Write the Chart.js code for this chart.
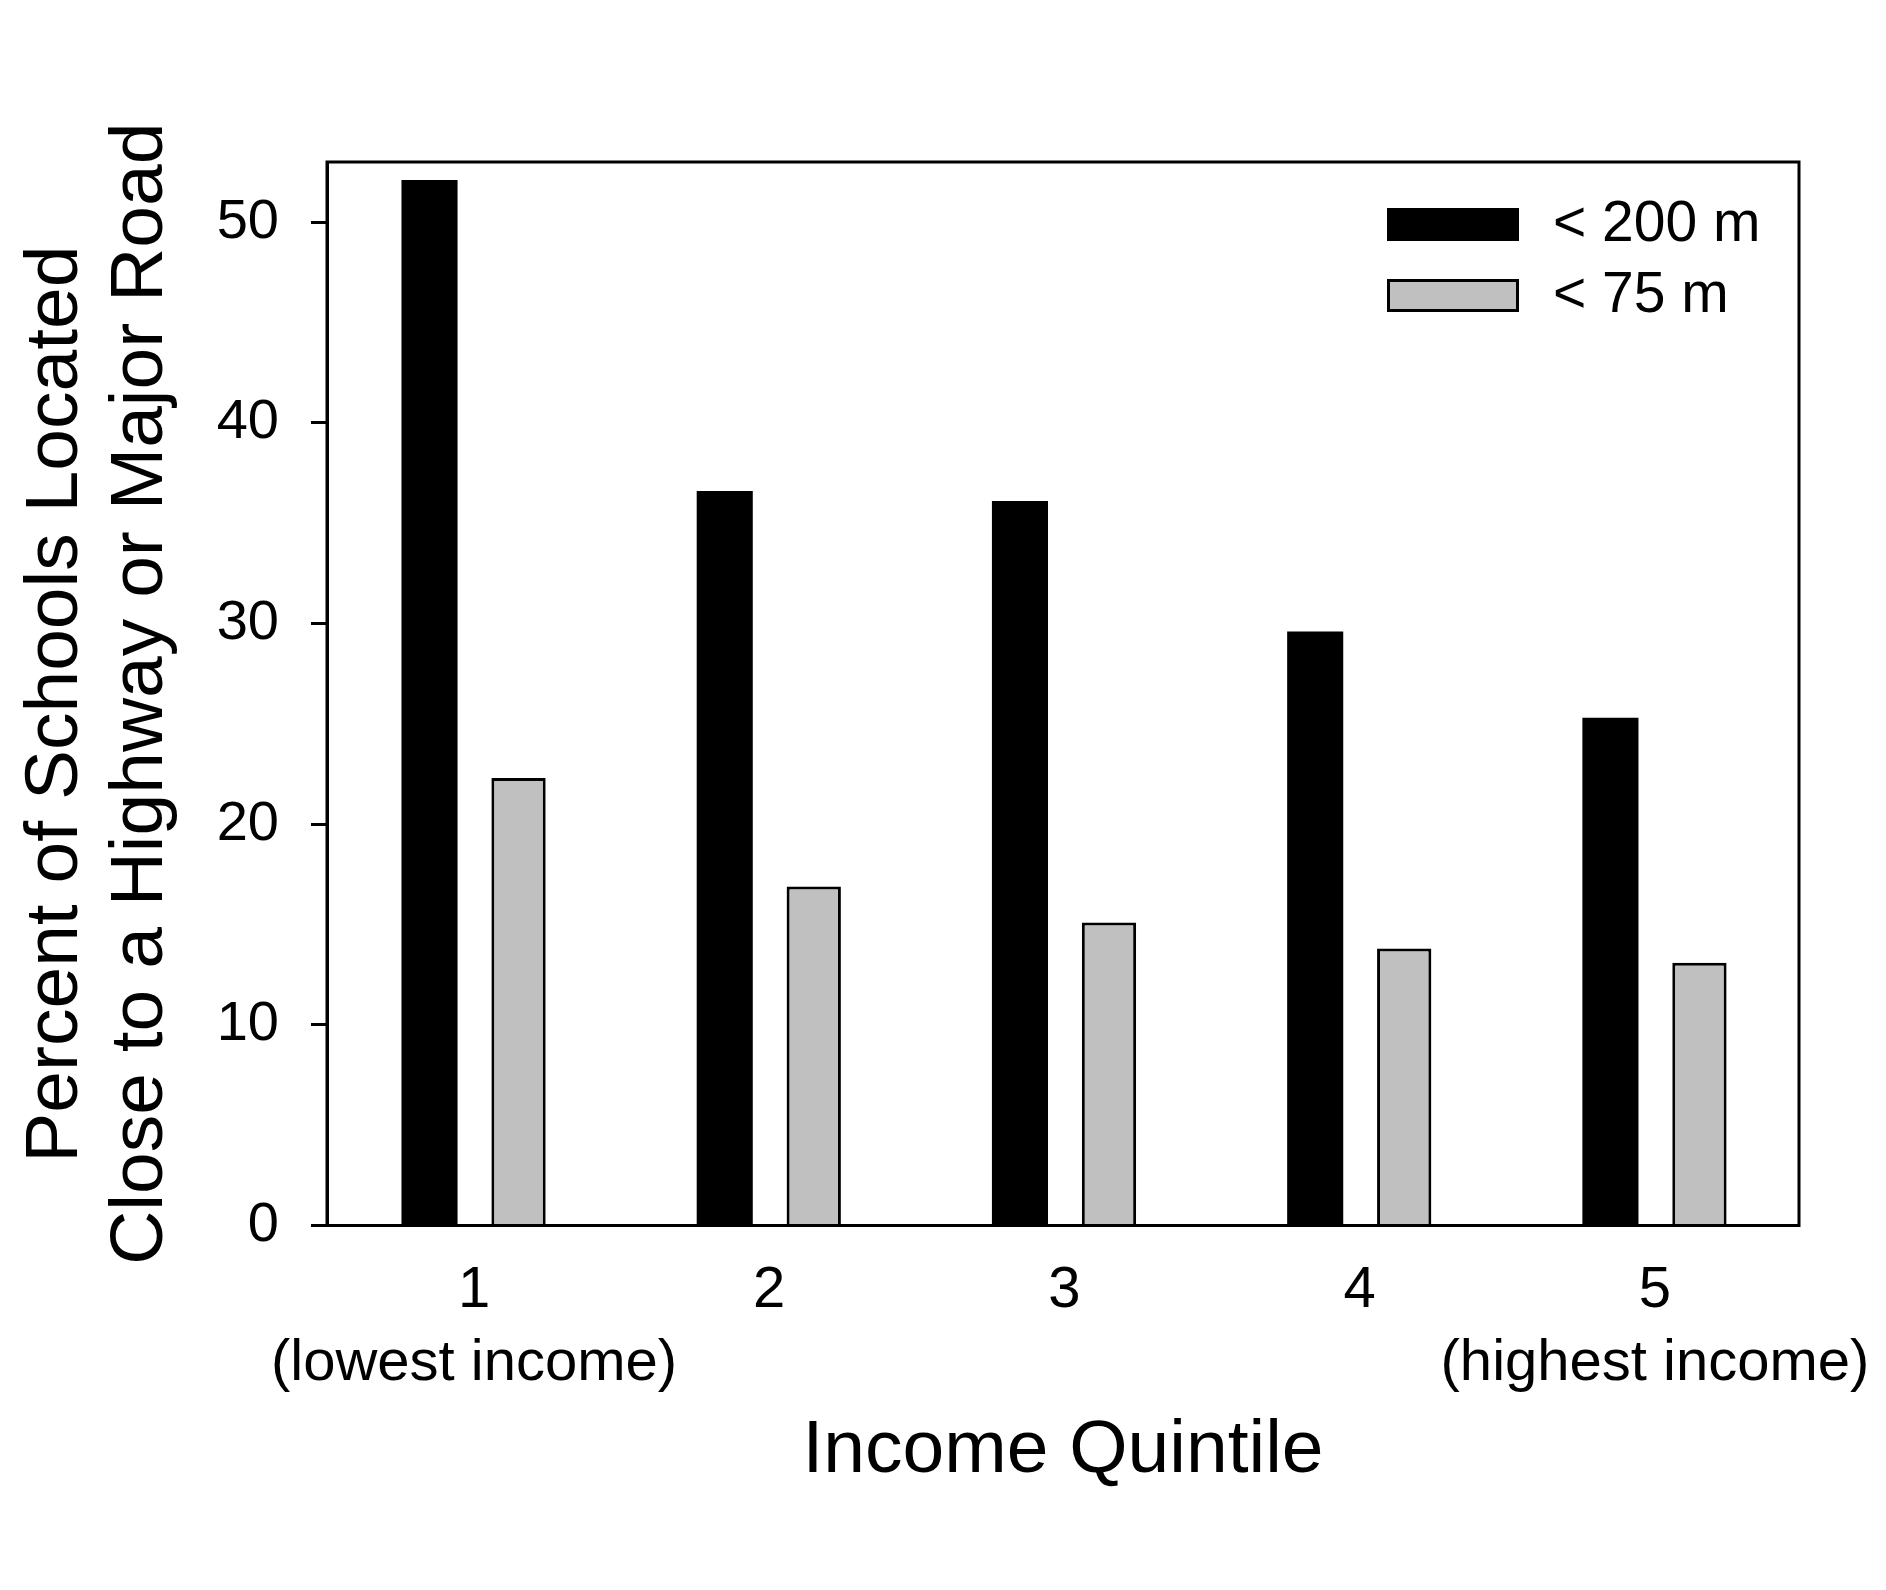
<!DOCTYPE html>
<html>
<head>
<meta charset="utf-8">
<script src="https://cdn.jsdelivr.net/npm/chart.js@4.4.1/dist/chart.umd.min.js"></script>
<style>
  html, body { margin: 0; padding: 0; background: #fff; }
  #wrap { width: 1886px; height: 1590px; position: relative; }
</style>
</head>
<body>
<div id="wrap"><canvas id="myChart"></canvas></div>
<script>
var quintiles = [1, 2, 3, 4, 5];
var quintileLabels = [['1', '(lowest income)'], ['2'], ['3'], ['4'], ['5', '(highest income)']];
var within200m = [52.1, 36.6, 36.1, 29.6, 25.3];
var within75m = [22.3, 16.9, 15.1, 13.8, 13.1];
var yTicks = [0, 10, 20, 30, 40, 50];
var seriesNames = ['< 200 m', '< 75 m'];

var FONT = "'Liberation Sans', Arial, sans-serif";

function points(values) {
  return quintiles.map(function (q, i) { return { x: q, y: values[i] }; });
}

// box round the plot and the legend inside it
var framePlugin = {
  id: 'frame',
  afterDatasetsDraw: function (chart) {
    var a = chart.chartArea, c = chart.ctx;
    c.save();
    c.strokeStyle = '#000';
    c.lineWidth = 3;
    c.strokeRect(a.left, a.top, a.right - a.left, a.bottom - a.top);
    c.restore();
  },
  afterDraw: function (chart) {
    var a = chart.chartArea, c = chart.ctx;
    c.save();
    chart.data.datasets.forEach(function (ds, i) {
      var x = a.right - 412, y = a.top + 46 + i * 71;
      c.fillStyle = ds.backgroundColor;
      c.fillRect(x, y, 132, 33);
      if (ds.borderWidth) {
        c.strokeStyle = '#000';
        c.lineWidth = ds.borderWidth;
        c.strokeRect(x + 1.5, y + 1.5, 129, 30);
      }
      c.fillStyle = '#000';
      c.font = '57px ' + FONT;
      c.textBaseline = 'middle';
      c.fillText(ds.label, x + 166, y + 17);
    });
    c.restore();
  }
};

var ctx = document.getElementById('myChart').getContext('2d');
var myChart = new Chart(ctx, {
  type: 'bar',
  data: {
    datasets: [{
      label: seriesNames[0],
      data: points(within200m),
      backgroundColor: '#000000',
      borderWidth: 0,
      barPercentage: 0.63
    }, {
      label: seriesNames[1],
      data: points(within75m),
      backgroundColor: '#C0C0C0',
      borderColor: '#000000',
      borderWidth: 3,
      barPercentage: 0.61
    }]
  },
  options: {
    responsive: true,
    maintainAspectRatio: false,
    animation: false,
    categoryPercentage: 0.603,
    layout: { padding: { left: 0, top: 162, right: 87, bottom: 0 } },
    plugins: {
      legend: { display: false },
      tooltip: { enabled: false }
    },
    scales: {
      x: {
        type: 'linear',
        offset: false,
        min: 0.502,
        max: 5.488,
        grid: { display: false },
        border: { display: true, color: '#000', width: 3 },
        afterBuildTicks: function (s) { s.ticks = quintiles.map(function (q) { return { value: q }; }); },
        afterFit: function (s) { s.height = 364.5; s.paddingLeft = 0; s.paddingRight = 0; },
        ticks: {
          color: '#000',
          padding: 21,
          autoSkip: false,
          maxRotation: 0,
          minRotation: 0,
          font: { family: FONT, size: 58, lineHeight: 1.26 },
          callback: function (v) { return quintileLabels[quintiles.indexOf(v)]; }
        },
        title: {
          display: true,
          text: 'Income Quintile',
          color: '#000',
          font: { family: FONT, size: 75, lineHeight: 1.15 },
          padding: { top: 0, bottom: 96 }
        }
      },
      y: {
        min: 0,
        max: 53.0,
        afterBuildTicks: function (s) { s.ticks = yTicks.map(function (v) { return { value: v }; }); },
        afterFit: function (s) { s.width = 327; s.paddingTop = 0; s.paddingBottom = 0; },
        grid: { drawOnChartArea: false, drawTicks: true, tickLength: 16, lineWidth: 3, color: '#000' },
        border: { display: true, color: '#000', width: 3 },
        ticks: {
          color: '#000',
          padding: 32,
          font: { family: FONT, size: 56 }
        },
        title: {
          display: true,
          text: ['Percent of Schools Located ', 'Close to a Highway or Major Road'],
          color: '#000',
          font: { family: FONT, size: 75, lineHeight: 1.133 },
          padding: { top: 14, bottom: 0 }
        }
      }
    }
  },
  plugins: [framePlugin]
});
</script>
</body>
</html>
